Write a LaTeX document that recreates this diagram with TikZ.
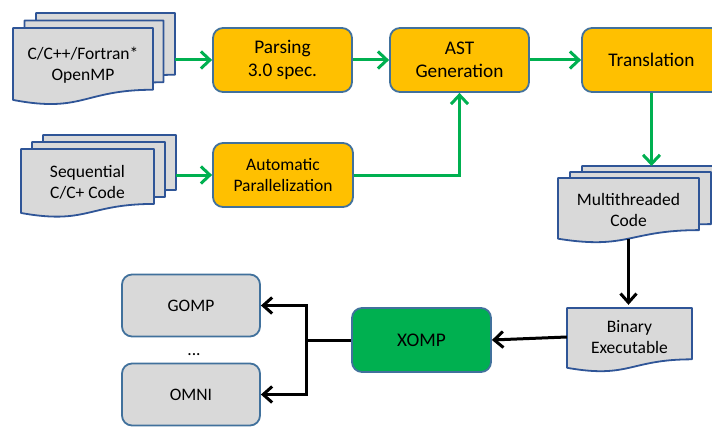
\documentclass[tikz,border=0pt]{standalone}
\usepackage{fontspec}
\setmainfont{Carlito}
\usetikzlibrary{arrows.meta}

\definecolor{stageorange}{HTML}{FFC000}
\definecolor{xompgreen}{HTML}{00B050}
\definecolor{flowgreen}{HTML}{00B050}
\definecolor{sheetgray}{HTML}{D9D9D9}
\definecolor{edgeblue}{HTML}{41719C}
\definecolor{docblue}{HTML}{2F5597}

\tikzset{
	stage/.style={draw=edgeblue, line width=1.8pt, rounded corners=10pt, fill=stageorange,
		minimum width=139pt, minimum height=64pt, align=center,
		font=\fontsize{19.3}{23}\selectfont},
	smallstage/.style={stage, font=\fontsize{17.5}{21}\selectfont},
	runtime/.style={stage, fill=sheetgray, minimum width=138pt, minimum height=62pt,
		font=\fontsize{17.5}{21}\selectfont},
	sheet/.style={draw=docblue, line width=1.8pt, fill=sheetgray, line join=round},
	doctext/.style={align=center, font=\fontsize{17.5}{21}\selectfont},
	flow/.style={draw=flowgreen, line width=3pt, -{Straight Barb[length=9pt,width=17pt]}},
	link/.style={draw=black, line width=3pt},
	linkto/.style={link, -{Straight Barb[length=9pt,width=16pt]}}
}

\newcommand{\docsheet}[4] % x, y of top left corner, width, height
{
	% sheet with wavy lower edge
	\draw[sheet] (#1,#2) -- (#1+#3,#2) -- (#1+#3,#2+0.802*#4)
		.. controls (#1+0.5*#3,#2+0.802*#4) and (#1+0.5*#3,#2+1.108*#4) .. (#1,#2+0.934*#4) -- cycle;
}

\begin{document}
\begin{tikzpicture}[x=1pt, y=-1pt]
	\useasboundingbox (0,0) rectangle (712,428);

	% input: OpenMP sources
	\docsheet{36}{13}{139}{77}
	\docsheet{24.5}{20.5}{139}{77}
	\docsheet{13}{28}{140}{77}
	\node[doctext] (omp) at (83,65) {C/C++/Fortran*\\OpenMP};
	\coordinate (omp-r) at (175,60);

	% input: sequential sources
	\docsheet{43}{135}{133}{68.5}
	\docsheet{32}{142}{133}{68.5}
	\docsheet{21}{149}{133}{68.5}
	\node[doctext] (seq) at (87.5,182) {Sequential\\C/C+ Code};
	\coordinate (seq-r) at (176,175);

	% compiler stages
	\node[stage] (parse) at (282.5,60) {Parsing\\3.0 spec.};
	\node[stage] (ast) at (459.5,60) {AST\\Generation};
	\node[stage] (trans) at (651.5,60) {Translation};
	\node[smallstage, minimum width=140pt] (auto) at (283,175) {Automatic\\Parallelization};

	% output code
	\docsheet{582}{166}{141}{65}
	\docsheet{570}{172}{141}{65}
	\docsheet{558}{178}{141}{65}
	\node[doctext] (mt) at (628.5,210) {Multithreaded\\Code};
	\coordinate (mt-t) at (651.5,166);
	\coordinate (mt-b) at (628.5,238.6);

	\docsheet{567}{308}{125}{64}
	\node[doctext, minimum width=125pt, minimum height=64pt] (bin) at (629.5,337) {Binary\\Executable};

	% runtime libraries
	\node[stage, fill=xompgreen] (xomp) at (421.5,340) {XOMP};
	\node[runtime] (gomp) at (191,305.5) {GOMP};
	\node[runtime] (omni) at (191,394.5) {OMNI};
	\node[doctext] (dots) at (194,355) {...};
	\coordinate (split) at (306,340);

	% connectors
	\draw[flow] (omp-r) -- (parse.west);
	\draw[flow] (parse) -- (ast);
	\draw[flow] (ast) -- (trans);
	\draw[flow] (seq-r) -- (auto.west);
	\draw[flow] (auto.east) -| (ast.south);
	\draw[flow] (trans.south) -- (mt-t);
	\draw[linkto] (mt-b) -- (mt-b |- bin.north);
	\draw[linkto] (bin.west) -- (xomp.east);
	\draw[link] (xomp.west) -- (split);
	\draw[linkto] (split) |- (gomp.east);
	\draw[linkto] (split) |- (omni.east);
\end{tikzpicture}
\end{document}
